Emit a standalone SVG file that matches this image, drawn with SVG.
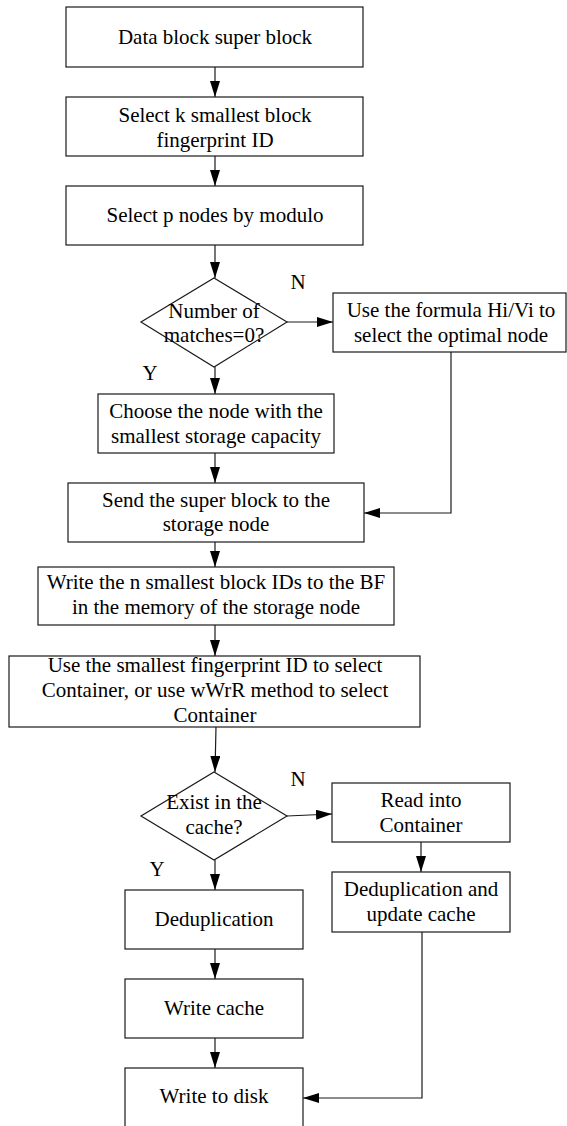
<svg xmlns="http://www.w3.org/2000/svg" width="567" height="1126" viewBox="0 0 567 1126">
<style>
.b{fill:#fff;stroke:#1a1a1a;stroke-width:1.2}
.t{font-family:"Liberation Serif","Times New Roman",serif;font-size:21px;fill:#000;text-anchor:middle}
.c{fill:none;stroke:#1a1a1a;stroke-width:1.2}
</style>
<defs>
<marker id="ah" viewBox="0 0 16 10" refX="16" refY="5" markerWidth="16" markerHeight="10" markerUnits="userSpaceOnUse" orient="auto">
<path d="M0,0 L16,5 L0,10 Z" fill="#000"/>
</marker>
</defs>
<rect width="567" height="1126" fill="#fff"/>
<g id="connectors">
<path class="c" d="M215,67 V97" marker-end="url(#ah)"/>
<path class="c" d="M215,156 V186" marker-end="url(#ah)"/>
<path class="c" d="M215,245 V278" marker-end="url(#ah)"/>
<path class="c" d="M287,322 H333" marker-end="url(#ah)"/>
<path class="c" d="M215,367 V394" marker-end="url(#ah)"/>
<path class="c" d="M215,453 V483" marker-end="url(#ah)"/>
<path class="c" d="M451,352 V513 H364" marker-end="url(#ah)"/>
<path class="c" d="M215,542 V567" marker-end="url(#ah)"/>
<path class="c" d="M215,625 V656" marker-end="url(#ah)"/>
<path class="c" d="M216,727 L215,772" marker-end="url(#ah)"/>
<path class="c" d="M287,816 L332,814" marker-end="url(#ah)"/>
<path class="c" d="M215,860 V890" marker-end="url(#ah)"/>
<path class="c" d="M421,842 V872" marker-end="url(#ah)"/>
<path class="c" d="M215,949 V979" marker-end="url(#ah)"/>
<path class="c" d="M215,1038 V1068" marker-end="url(#ah)"/>
<path class="c" d="M422,932 V1098 H303" marker-end="url(#ah)"/>
</g>
<g id="n1"><rect class="b" x="66" y="7" width="297" height="60"/><text class="t" x="215" y="44">Data block super block</text></g>
<g id="n2"><rect class="b" x="66" y="97" width="297" height="59"/><text class="t" x="215" y="122">Select k smallest block</text><text class="t" x="215" y="147">fingerprint ID</text></g>
<g id="n3"><rect class="b" x="66" y="186" width="297" height="59"/><text class="t" x="215" y="222">Select p nodes by modulo</text></g>
<g id="d1"><path class="b" d="M214,278 L287,322 L214,367 L141,322 Z"/><text class="t" x="214" y="318">Number of</text><text class="t" x="214" y="342">matches=0?</text></g>
<g id="lblN1"><text class="t" x="298" y="289">N</text></g>
<g id="lblY1"><text class="t" x="150" y="380">Y</text></g>
<g id="n4"><rect class="b" x="333" y="293" width="233" height="59"/><text class="t" x="451" y="317">Use the formula Hi/Vi to</text><text class="t" x="451" y="342">select the optimal node</text></g>
<g id="n5"><rect class="b" x="98" y="394" width="236" height="59"/><text class="t" x="216" y="418">Choose the node with the</text><text class="t" x="216" y="443">smallest storage capacity</text></g>
<g id="n6"><rect class="b" x="68" y="483" width="296" height="59"/><text class="t" x="216" y="507">Send the super block to the</text><text class="t" x="216" y="531">storage node</text></g>
<g id="n7"><rect class="b" x="38" y="567" width="356" height="58"/><text class="t" x="216" y="589">Write the n smallest block IDs to the BF</text><text class="t" x="216" y="614">in the memory of the storage node</text></g>
<g id="n8"><rect class="b" x="9" y="656" width="411" height="71"/><text class="t" x="215" y="672">Use the smallest fingerprint ID to select</text><text class="t" x="215" y="697">Container, or use wWrR method to select</text><text class="t" x="215" y="722">Container</text></g>
<g id="d2"><path class="b" d="M214,772 L287,816 L214,860 L141,816 Z"/><text class="t" x="214" y="809">Exist in the</text><text class="t" x="214" y="834">cache?</text></g>
<g id="lblN2"><text class="t" x="298" y="786">N</text></g>
<g id="lblY2"><text class="t" x="157" y="876">Y</text></g>
<g id="n9"><rect class="b" x="332" y="783" width="178" height="59"/><text class="t" x="421" y="807">Read into</text><text class="t" x="421" y="832">Container</text></g>
<g id="n10"><rect class="b" x="332" y="872" width="178" height="60"/><text class="t" x="421" y="896">Deduplication and</text><text class="t" x="421" y="921">update cache</text></g>
<g id="n11"><rect class="b" x="125" y="890" width="178" height="59"/><text class="t" x="214" y="926">Deduplication</text></g>
<g id="n12"><rect class="b" x="125" y="979" width="178" height="59"/><text class="t" x="214" y="1015">Write cache</text></g>
<g id="n13"><rect class="b" x="125" y="1068" width="178" height="70"/><text class="t" x="214" y="1103">Write to disk</text></g>
</svg>
